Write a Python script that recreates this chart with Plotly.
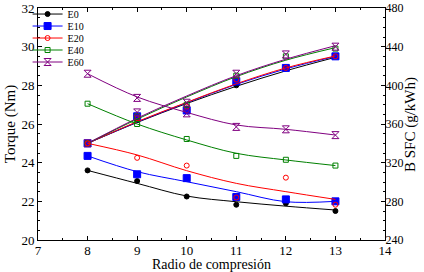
import plotly.graph_objects as go

# Radio de compresión
radio = [8, 9, 10, 11, 12, 13]

# Torque (Nm) - puntos medidos
torque_e0 = [25.0, 26.2, 26.8, 28.0, 28.9, 29.5]
torque_e10 = [25.0, 26.4, 26.7, 28.2, 28.9, 29.5]
torque_e20 = [25.0, 26.3, 26.9, 28.3, 28.9, 29.5]
torque_e40 = [25.0, 26.4, 27.0, 28.5, 29.5, 29.9]
torque_e60 = [25.0, 26.6, 27.1, 28.6, 29.6, 30.0]

# Torque - curvas de ajuste
torque_fit_e0 = [25.0, 26.08, 27.06, 27.95, 28.75, 29.45]
torque_fit_e10 = [25.0, 26.1, 27.1, 28.05, 28.85, 29.5]
torque_fit_e20 = [25.0, 26.12, 27.12, 28.08, 28.9, 29.52]
torque_fit_e40 = [25.0, 26.25, 27.4, 28.45, 29.3, 29.95]
torque_fit_e60 = [25.0, 26.3, 27.45, 28.5, 29.35, 30.05]

# BSFC (g/kWh) - puntos medidos
bsfc_e0 = [312, 301, 285, 276.5, 278, 270]
bsfc_e10 = [327, 308, 304, 284.5, 282, 280]
bsfc_e20 = [340, 325, 317, 284, 304.5, 276.5]
bsfc_e40 = [381, 360, 344.5, 327, 323, 317]
bsfc_e60 = [412, 387, 371, 357, 354.5, 348.5]

# BSFC - curvas de ajuste
bsfc_fit_e0 = [312, 298.6, 285.5, 279.6, 275, 271]
bsfc_fit_e10 = [327, 310.7, 300.3, 290, 279.6, 280]
bsfc_fit_e20 = [340, 328, 311.7, 298.6, 290, 282]
bsfc_fit_e40 = [381, 360, 343.5, 329.7, 322.8, 317]
bsfc_fit_e60 = [412, 388, 372, 359, 354.5, 348.6]

series = [
    ('E0', 'black', 'circle', 5, torque_e0, torque_fit_e0, bsfc_e0, bsfc_fit_e0),
    ('E10', '#0000FF', 'square', 7, torque_e10, torque_fit_e10, bsfc_e10, bsfc_fit_e10),
    ('E20', '#FF0000', 'circle-open', 5, torque_e20, torque_fit_e20, bsfc_e20, bsfc_fit_e20),
    ('E40', '#008000', 'square-open', 5, torque_e40, torque_fit_e40, bsfc_e40, bsfc_fit_e40),
    ('E60', '#800080', 'hourglass-open', 7, torque_e60, torque_fit_e60, bsfc_e60, bsfc_fit_e60),
]

fuente = 'Liberation Serif'
fig = go.Figure()
leyendas = {}

for i, (nombre, color, simbolo, tam, tq, tq_fit, bs, bs_fit) in enumerate(series):
    marcador = dict(color=color, symbol=simbolo, size=tam, line=dict(color=color, width=1))
    # curvas de ajuste
    fig.add_trace(go.Scatter(x=radio, y=tq_fit, mode='lines', line=dict(color=color, width=1, shape='spline'),
                             showlegend=False))
    fig.add_trace(go.Scatter(x=radio, y=bs_fit, mode='lines', line=dict(color=color, width=1, shape='spline'),
                             showlegend=False, yaxis='y2'))
    # puntos
    fig.add_trace(go.Scatter(x=radio, y=tq, mode='markers', marker=marcador, showlegend=False))
    fig.add_trace(go.Scatter(x=radio, y=bs, mode='markers', marker=marcador, showlegend=False, yaxis='y2'))
    # entrada de leyenda (una leyenda por serie para juntar las filas)
    ley = 'legend' if i == 0 else 'legend%d' % (i + 1)
    fig.add_trace(go.Scatter(x=[None], y=[None], mode='lines+markers', name=nombre, legend=ley,
                             line=dict(color=color, width=1), marker=marcador))
    leyendas[ley] = dict(x=-0.03, y=0.974 - i * 0.0517, xanchor='left', yanchor='middle',
                         bgcolor='rgba(0,0,0,0)', font=dict(family=fuente, size=10, color='black'),
                         itemwidth=30)

eje = dict(showgrid=False, zeroline=False, showline=True, linecolor='black', linewidth=1,
           tickcolor='black', ticklen=4)

fig.update_layout(
    width=424, height=272,
    margin=dict(l=37.5, r=38.5, t=8, b=32, autoexpand=False),
    paper_bgcolor='white', plot_bgcolor='white',
    font=dict(family=fuente, color='black'),
    xaxis=dict(range=[7, 14], dtick=1, ticks='inside', mirror='ticks', ticklabelstandoff=-2,
               tickfont=dict(family=fuente, size=13, color='black'),
               minor=dict(ticks='inside', ticklen=2, dtick=0.5, tickcolor='black'), **eje),
    yaxis=dict(range=[20, 32], dtick=2, ticks='inside',
               tickfont=dict(family=fuente, size=13, color='black'),
               minor=dict(ticks='inside', ticklen=2, dtick=0.5, tickcolor='black'), **eje),
    yaxis2=dict(range=[240, 480], dtick=40, ticks='inside', overlaying='y', side='right',
                ticklabelstandoff=-3, tickfont=dict(family=fuente, size=12, color='black'),
                minor=dict(ticks='inside', ticklen=2, dtick=10, tickcolor='black'), **eje),
    annotations=[
        dict(text='Torque (Nm)', xref='paper', yref='paper', x=-0.08, y=0.5, textangle=-90,
             xanchor='center', yanchor='middle', showarrow=False, font=dict(family=fuente, size=15)),
        dict(text='B SFC (g/kWh)', xref='paper', yref='paper', x=1.072, y=0.5, textangle=-90,
             xanchor='center', yanchor='middle', showarrow=False, font=dict(family=fuente, size=15)),
        dict(text='Radio de compresión', xref='paper', yref='paper', x=0.5, y=-0.106,
             xanchor='center', yanchor='middle', showarrow=False, font=dict(family=fuente, size=14)),
    ],
    **leyendas,
)

# sin margen en el body para que la figura ocupe la ventana
fig.write_html('out.html', config={'displayModeBar': False},
               post_script="document.body.style.margin='0';")
